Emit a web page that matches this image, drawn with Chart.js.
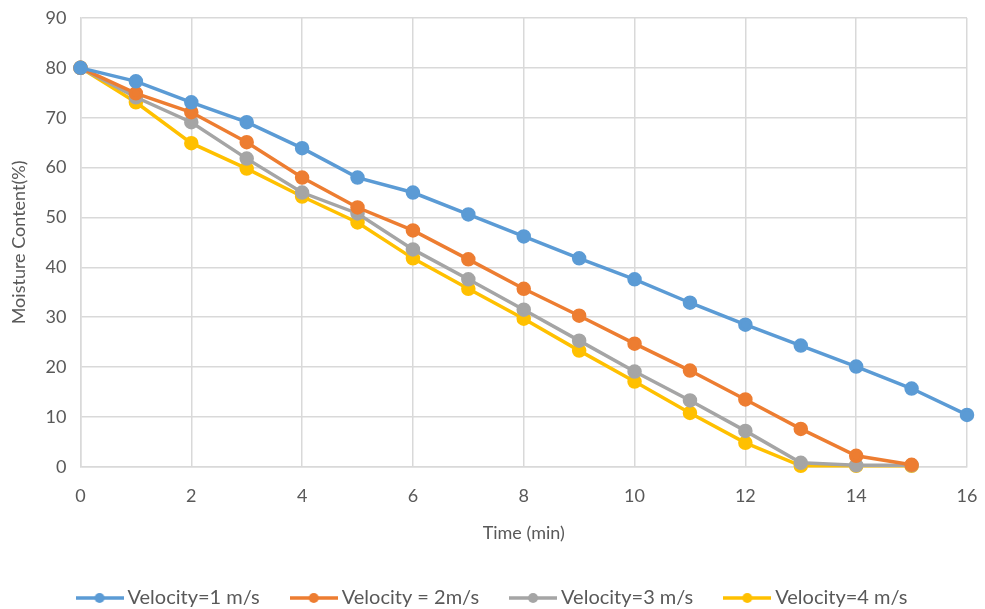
<!DOCTYPE html>
<html><head><meta charset="utf-8">
<script src="https://cdn.jsdelivr.net/npm/chart.js@4/dist/chart.umd.min.js"></script>
<style>html,body{margin:0;padding:0;background:#fff}#wrap{width:985px;height:609px}</style>
</head><body><div id="wrap"><canvas id="c" width="985" height="609"></canvas></div>
<script>
const times = [0,1,2,3,4,5,6,7,8,9,10,11,12,13,14,15,16];
const seriesNames = ["Velocity=1 m/s","Velocity = 2m/s","Velocity=3 m/s","Velocity=4 m/s"];
const v1 = [80,77.3,73.1,69.1,63.9,58.0,55.0,50.6,46.2,41.8,37.6,32.9,28.5,24.3,20.1,15.7,10.4];
const v2 = [80,74.9,71.1,65.1,58.0,52.0,47.4,41.6,35.7,30.3,24.7,19.3,13.5,7.6,2.2,0.4];
const v3 = [80,74.1,69.1,61.8,55.0,50.8,43.6,37.6,31.5,25.3,19.1,13.3,7.2,0.8,0.3,0.3];
const v4 = [80,73.1,64.9,59.8,54.2,49.0,41.8,35.7,29.7,23.3,17.1,10.8,4.8,0.2,0.2,0.2];
const colors = ["#5b9bd5","#ed7d31","#a5a5a5","#ffc000"];
const xTicks = [0,2,4,6,8,10,12,14,16];

function icon(col){
  const c=document.createElement('canvas');c.width=48;c.height=12;
  const g=c.getContext('2d');
  g.strokeStyle=col;g.lineWidth=3.5;g.beginPath();g.moveTo(0,6);g.lineTo(48,6);g.stroke();
  g.fillStyle=col;g.beginPath();g.arc(24,6,5,0,Math.PI*2);g.fill();
  return c;
}
const all=[v1,v2,v3,v4];
const datasets = all.map((arr,i)=>({
  label: seriesNames[i],
  data: arr.map((y,j)=>({x:times[j],y:y})),
  borderColor: colors[i], backgroundColor: colors[i],
  pointBackgroundColor: colors[i], pointBorderColor: colors[i],
  borderWidth: 3.5, pointRadius: 5.5, pointHoverRadius: 5.5, tension: 0, clip: false
}));
const txt="#595959", grid="#d9d9d9";
const F="Lato";
new Chart(document.getElementById('c'),{
  type:'line',
  data:{datasets},
  options:{
    responsive:false, animation:false,
    layout:{padding:{left:4,right:0,top:0,bottom:-9}},
    plugins:{
      legend:{position:'bottom',
        labels:{color:txt,font:{family:F,size:20},padding:36,boxWidth:36,boxHeight:12,usePointStyle:true,pointStyleWidth:36,
          generateLabels:(ch)=>ch.data.datasets.map((d,i)=>({text:d.label,pointStyle:icon(colors[i]),fontColor:txt,strokeStyle:colors[i],fillStyle:colors[i],lineWidth:0,datasetIndex:i,hidden:false}))}},
      tooltip:{enabled:false}
    },
    scales:{
      x:{type:'linear',min:0,max:16,
        afterBuildTicks:(ax)=>{ax.ticks=xTicks.map(v=>({value:v}));},
        afterFit:(s)=>{s.paddingRight=18;},
        grid:{color:grid,lineWidth:1.5,drawTicks:false},border:{color:grid,width:1.5},
        ticks:{color:txt,font:{family:F,size:18},padding:19},
        title:{display:true,text:"Time (min)",color:txt,font:{family:F,size:18},padding:{top:-4,bottom:8}}},
      y:{min:0,max:90,
        afterFit:(s)=>{s.paddingTop=18;},
        grid:{color:grid,lineWidth:1.5,drawTicks:false},border:{color:grid,width:1.5},
        ticks:{stepSize:10,color:txt,font:{family:F,size:18},padding:14},
        title:{display:true,text:"Moisture Content(%)",color:txt,font:{family:F,size:18},padding:{bottom:2}}}
    }
  }
});
</script></body></html>
